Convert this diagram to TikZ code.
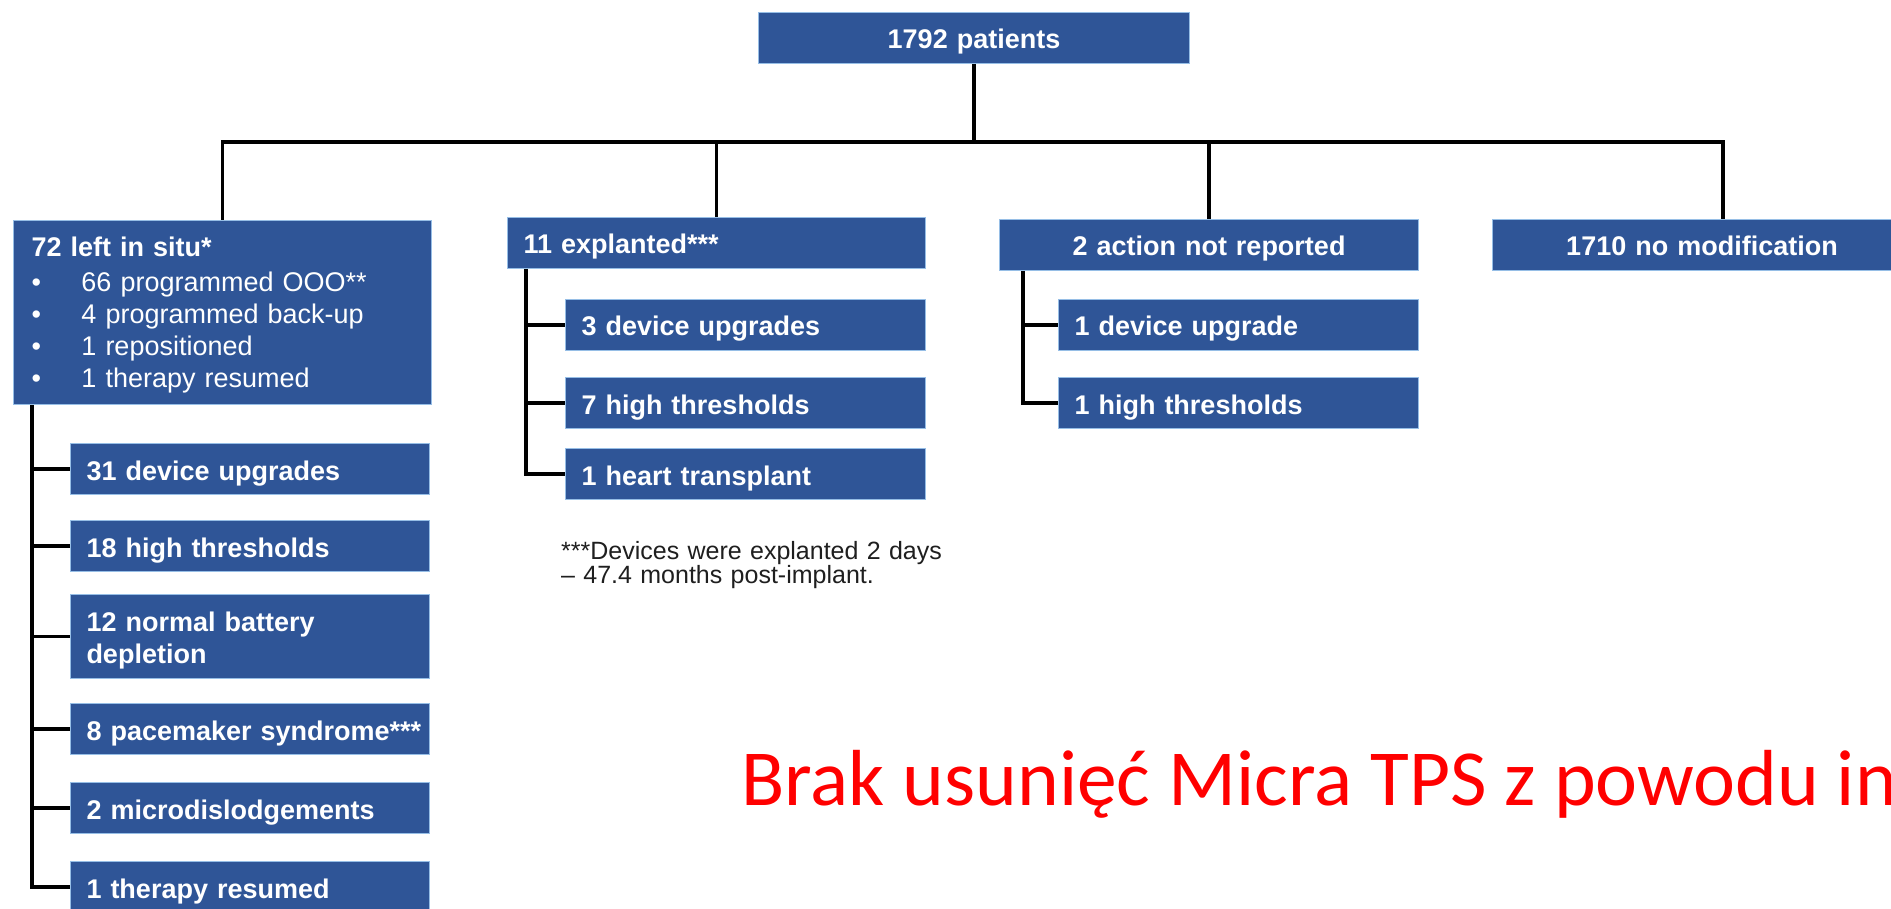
\documentclass[tikz,border=0pt]{standalone}
\usepackage{fontspec}
\setmainfont{Liberation Sans}
\newfontfamily\remarkfont{Carlito}
\definecolor{boxfill}{RGB}{47,85,151}
\definecolor{boxedge}{RGB}{150,190,230}
\definecolor{remarkred}{RGB}{255,0,0}
\tikzset{
  box/.style={draw=boxedge, line width=1pt, fill=boxfill, text=white,
    anchor=north west, inner ysep=0pt, inner xsep=16pt, align=left,
    font=\fontsize{27}{32}\selectfont\bfseries},
  oneline/.style={text height=24pt, text depth=2pt, minimum height=51pt},
  link/.style={draw=black, line width=3.5pt, line join=miter},
}
\begin{document}
\begin{tikzpicture}[x=1pt, y=-1pt]
  \useasboundingbox (0,0) rectangle (1891,909);
  \fill[white] (0,0) rectangle (1891,909);
  \clip (0,0) rectangle (1891,909);

  % top level
  \node[box, oneline, align=center, minimum width=431pt, text width=399pt] (top) at (758,12) {1792 patients};

  % second level
  \node[box, inner xsep=18pt, minimum width=418pt, minimum height=184pt, text width=382pt,
        text height=22pt, text depth=134pt] (L) at (13,220)
    {72 left in situ*\\[3pt]
     \mdseries\makebox[50pt][l]{•}66 programmed OOO**\\
     \mdseries\makebox[50pt][l]{•}4 programmed back-up\\
     \mdseries\makebox[50pt][l]{•}1 repositioned\\
     \mdseries\makebox[50pt][l]{•}1 therapy resumed};
  \node[box, oneline, minimum width=418pt, text width=386pt] (E) at (507,217) {11 explanted***};
  \node[box, oneline, align=center, minimum width=419pt, text width=387pt] (A) at (999,219) {2 action not reported};
  \node[box, oneline, align=center, minimum width=419pt, text width=387pt] (N) at (1492,219) {1710 no modification};

  % children of "left in situ"
  \node[box, oneline, minimum width=359pt, text width=327pt] (l1) at (70,443) {31 device upgrades};
  \node[box, oneline, minimum width=359pt, text width=327pt] (l2) at (70,520) {18 high thresholds};
  \node[box, minimum width=359pt, minimum height=84pt, text width=327pt,
        text height=23pt, text depth=33pt] (l3) at (70,594) {12 normal battery\\depletion};
  \node[box, oneline, minimum width=359pt, text width=327pt] (l4) at (70,703) {\mbox{8 pacemaker syndrome***}};
  \node[box, oneline, minimum width=359pt, text width=327pt] (l5) at (70,782) {2 microdislodgements};
  \node[box, oneline, minimum width=359pt, text width=327pt] (l6) at (70,861) {1 therapy resumed};

  % children of "explanted"
  \node[box, oneline, minimum width=360pt, text width=328pt] (e1) at (565,299) {3 device upgrades};
  \node[box, oneline, minimum width=360pt, text width=328pt] (e2) at (565,377) {7 high thresholds};
  \node[box, oneline, minimum width=360pt, text width=328pt] (e3) at (565,448) {1 heart transplant};

  % children of "action not reported"
  \node[box, oneline, minimum width=360pt, text width=328pt] (a1) at (1058,299) {1 device upgrade};
  \node[box, oneline, minimum width=360pt, text width=328pt] (a2) at (1058,377) {1 high thresholds};

  % footnote
  \node[anchor=base west, inner sep=0pt, text width=420pt, align=left, text=black!88,
        font=\fontsize{25}{23}\selectfont] (note) at (561,559)
    {***Devices were explanted 2 days\\– 47.4 months post-implant.};

  % remark
  \node[anchor=base west, inner sep=0pt, text=remarkred,
        font=\remarkfont\fontsize{79.5}{90}\selectfont] (remark) at (741,805)
    {Brak usunięć Micra TPS z powodu in};

  % connectors from the top box
  \coordinate (bar) at (973,142);
  \coordinate (nDrop) at (1723,142);
  \draw[link] (top.south) -- (top.south |- bar);
  \draw[link] (L.north) -- (L.north |- bar) -- (nDrop) -- (nDrop |- N.north);
  \draw[link] (E.north |- bar) -- (E.north);
  \draw[link] (A.north |- bar) -- (A.north);

  % trunk of "left in situ"
  \coordinate (Lt) at ([xshift=19pt]L.south west);
  \draw[link] (Lt) |- (l6.west);
  \foreach \c in {l1,l2,l3,l4,l5} \draw[link] (Lt |- \c.west) -- (\c.west);

  % trunk of "explanted"
  \coordinate (Et) at ([xshift=19pt]E.south west);
  \draw[link] (Et) |- (e3.west);
  \foreach \c in {e1,e2} \draw[link] (Et |- \c.west) -- (\c.west);

  % trunk of "action not reported"
  \coordinate (At) at ([xshift=24pt]A.south west);
  \draw[link] (At) |- (a2.west);
  \draw[link] (At |- a1.west) -- (a1.west);
\end{tikzpicture}
\end{document}
